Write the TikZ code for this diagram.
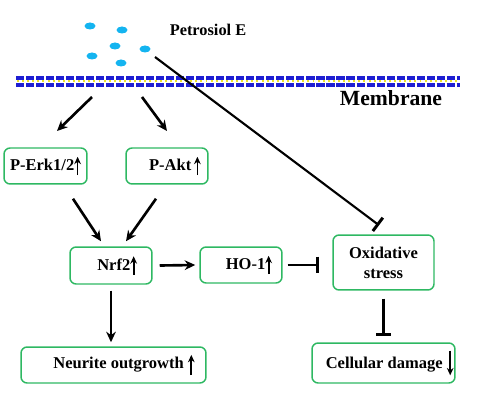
\documentclass[tikz,border=0pt]{standalone}
\usepackage{fontspec}
\setmainfont{Liberation Serif}
\usetikzlibrary{arrows.meta,shapes.geometric,calc}
\definecolor{boxgreen}{RGB}{46,184,98}
\definecolor{dotblue}{RGB}{20,180,240}
\definecolor{memblue}{RGB}{30,30,210}
\definecolor{memyellow}{RGB}{235,225,40}
\newcommand{\uparr}[2]{\tikz[baseline=0pt]\draw[line width=1pt,-{Stealth[length=4.2pt,width=3.8pt]}] (0,#1) -- (0,#2);}
\begin{document}
\begin{tikzpicture}[x=0.02cm,y=-0.02cm,
  box/.style={draw=boxgreen, line width=0.85pt, rounded corners=3.5pt, font=\bfseries\fontsize{9.4}{11.3}\selectfont, inner sep=0pt, align=center},
  lbl/.style={font=\bfseries\fontsize{9.3}{11}\selectfont, inner sep=0pt},
  conn/.style={line width=1.5pt, -{Stealth[length=6pt,width=5.5pt]}},
  inhib/.style={line width=1.4pt, -{Bar[width=#1,line width=1.7pt]}},
  mol/.style={ellipse, fill=dotblue, minimum width=0.22cm, minimum height=0.14cm, inner sep=0pt}]
\useasboundingbox (0,0) rectangle (500,405);
% molecules
\node[mol] (d1) at (90,26) {};
\node[mol] (d2) at (122,30) {};
\node[mol] (d3) at (115,46) {};
\node[mol] (d4) at (92,56) {};
\node[mol] (d5) at (121,63) {};
\node[mol] (d6) at (145,49) {};
\node[lbl] (pe) at (208,30) {Petrosiol E};
% membrane
\draw[memblue, line width=2pt, dash pattern=on 4.6pt off 1.1pt] (16,77.8) -- (460,77.8);
\draw[memblue, line width=2pt, dash pattern=on 4.6pt off 1.1pt] (16,85) -- (460,85);
\draw[memyellow, line width=1.2pt, dash pattern=on 1.1pt off 1.8pt] (17,81.4) -- (460,81.4);
\node[font=\bfseries\fontsize{12.3}{14}\selectfont, inner sep=0pt] (mem) at (391,98) {Membrane};
% boxes
\node[box, minimum width=1.66cm, minimum height=0.72cm] (perk) at (45.5,166) {P-Erk1/2\uparr{-2.5pt}{8pt}};
\node[box, minimum width=1.64cm, minimum height=0.72cm] (pakt) at (167,166) {\hspace{9pt}P-Akt\,\uparr{-2.5pt}{8pt}};
\node[box, minimum width=1.64cm, minimum height=0.74cm] (nrf) at (111,265.5) {\hspace{7pt}Nrf2\uparr{-2.5pt}{8pt}};
\node[box, minimum width=1.64cm, minimum height=0.72cm] (ho) at (241,265) {\hspace{9pt}HO-1\uparr{-2.5pt}{8pt}};
\node[box, minimum width=2.02cm, minimum height=1.1cm] (ox) at (383.5,262.5) {Oxidative\\stress};
\node[box, minimum width=3.7cm, minimum height=0.72cm] (neur) at (113.5,365) {\hspace{12pt}Neurite outgrowth \uparr{-3.5pt}{8pt}};
\node[box, minimum width=2.86cm, minimum height=0.8cm] (cell) at (383.5,363) {\hspace{7pt}Cellular damage \uparr{10pt}{-4pt}};
% connectors
\coordinate (m1) at (92,97);
\coordinate (t1) at (57,131);
\coordinate (m2) at (142,97);
\coordinate (t2) at (167,131);
\coordinate (ls) at (155,57);
\draw[conn] (m1) -- (t1);
\draw[conn] (m2) -- (t2);
\draw[conn] ($(perk.south)+(27.5,14)$) -- ($(nrf.north)+(-10,-5)$);
\draw[conn] ($(pakt.south)+(-11,14)$) -- ($(nrf.north)+(15,-5)$);
\draw[conn] ($(nrf.east)+(7,0)$) -- ($(ho.west)+(-4,0)$);
\draw[conn] ($(nrf.south)+(0,6)$) -- ($(nrf.south |- neur.north)+(0,-4)$);
\draw[inhib=9.5pt, line width=1.2pt] (ls) -- ($(ox.north)+(-4.5,-9)$);
\draw[inhib=9.6pt] ($(ho.east)+(5,0)$) -- ($(ho.east -| ox.west)+(-13,0)$);
\draw[inhib=8pt] ($(ox.south)+(0,8)$) -- ($(ox.south |- cell.north)+(0,-6)$);
\end{tikzpicture}
\end{document}
